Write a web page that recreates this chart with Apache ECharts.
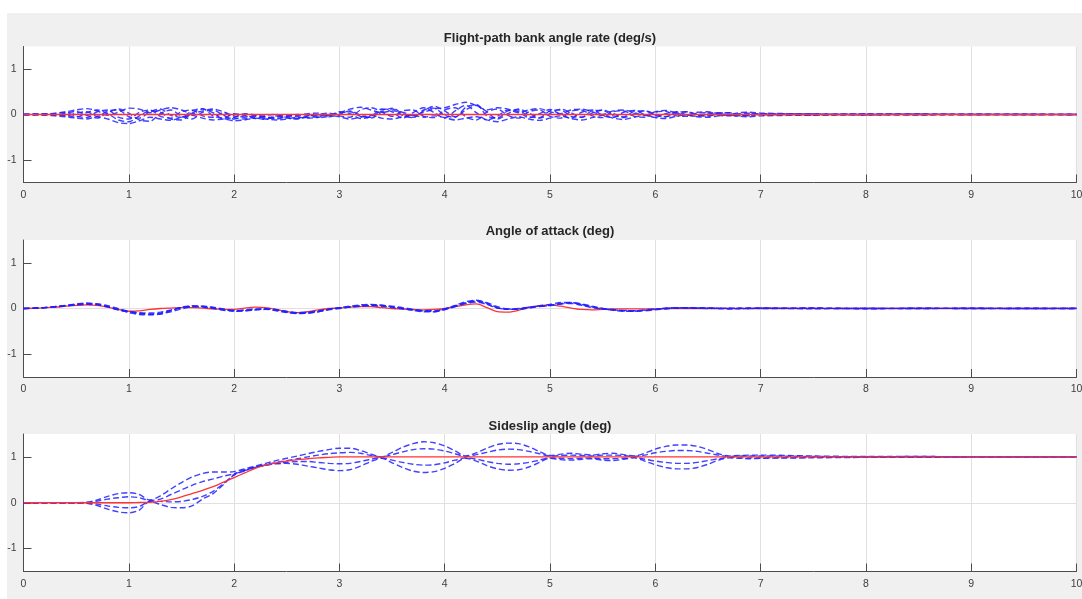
<!DOCTYPE html>
<html>
<head>
<meta charset="utf-8">
<script src="https://cdn.jsdelivr.net/npm/echarts@6/dist/echarts.min.js"></script>
<style>
html,body{margin:0;padding:0;background:#ffffff;width:1082px;height:599px;overflow:hidden;}
#chart{position:absolute;left:7px;top:13px;width:1075px;height:586px;}
</style>
</head>
<body>
<div id="chart"></div>
<script>
// time samples (s)
const T = [
0,0.1,0.2,0.3,0.4,0.5,0.6,0.7,0.8,0.9,
1,1.1,1.2,1.3,1.4,1.5,1.6,1.7,1.8,1.9,
2,2.1,2.2,2.3,2.4,2.5,2.6,2.7,2.8,2.9,
3,3.1,3.2,3.3,3.4,3.5,3.6,3.7,3.8,3.9,
4,4.1,4.2,4.3,4.4,4.5,4.6,4.7,4.8,4.9,
5,5.1,5.2,5.3,5.4,5.5,5.6,5.7,5.8,5.9,
6,6.1,6.2,6.3,6.4,6.5,6.6,6.7,6.8,6.9,
7,7.5,8,8.5,9,9.5,10];

const titles = ['Flight-path bank angle rate (deg/s)', 'Angle of attack (deg)', 'Sideslip angle (deg)'];
const xTicks = [0,1,2,3,4,5,6,7,8,9,10];
const yTicks = [-1,0,1];

// Panel 1: bank angle rate
const bankRef = [
0,0,0,0,0,0,0,0,0,0,
0,0,0,0,0,0,0,0,0,0,
0,0,0,0,0,0,0,0,0,0,
0,0,0,0,0,0,0,0,0,0,
0,0,0,0,0,0,0,0,0,0,
0,0,0,0,0,0,0,0,0,0,
0,0,0,0,0,0,0,0,0,0,
0,0,0,0,0,0,0];
const bankA = [
0,0,.01,.03,.06,.1,.13,.08,-.02,.05,
.14,.12,.04,.1,.15,.1,.02,.08,.12,.06,
-.03,-.06,-.02,-.05,-.08,-.04,-.02,.02,.03,-.02,
.04,.12,.16,.1,.04,.08,.05,-.02,.05,.12,
.15,.22,.27,.2,.1,.15,.12,.04,.1,.13,
.06,.02,.1,.12,.06,0,.08,.1,.04,-.02,
.06,.09,.03,-.01,.05,.06,.02,0,.04,.05,
.03,.015,.01,.01,.005,.005,0];
const bankB = [
0,0,-.01,-.03,-.05,-.08,-.1,-.05,-.1,-.18,
-.2,-.14,-.06,-.1,-.13,-.06,-.02,-.08,-.12,-.1,
-.14,-.12,-.08,-.1,-.12,-.1,-.06,-.08,-.06,-.02,
-.05,-.1,-.06,-.02,-.08,-.1,-.05,-.02,-.06,-.03,
-.07,-.12,-.08,-.05,-.12,-.16,-.1,-.05,-.1,-.13,
-.08,-.03,-.09,-.12,-.07,-.02,-.08,-.11,-.06,-.02,
-.07,-.09,-.04,-.01,-.05,-.06,-.03,-.01,-.04,-.05,
-.03,-.015,-.01,-.01,-.005,-.005,0];
const bankC = [
0,.01,.02,0,-.03,.03,.06,-.04,.08,.1,
-.05,-.08,.06,.12,-.02,-.06,.08,.13,-.03,-.08,
.02,-.02,-.09,-.02,0,-.08,-.09,-.03,0,.03,
-.03,-.06,.1,.15,.06,-.04,.08,.1,-.04,-.07,
.1,.15,-.05,-.12,.05,.12,-.02,-.08,.06,.1,
-.04,-.08,.07,.1,-.03,-.07,.06,.08,-.04,-.06,
.05,.07,-.03,-.04,.03,.04,-.02,-.03,.02,.03,
-.01,.01,0,.01,0,0,0];
const bankD = [
0,-.01,0,.02,.04,-.04,-.07,.06,.1,-.06,
-.1,.05,.1,-.04,-.08,.06,.1,-.03,-.06,.04,
-.07,-.1,-.04,-.08,-.05,-.02,-.05,-.07,-.03,0,
.03,.06,-.04,-.06,.1,.12,-.02,-.07,.1,.14,
-.02,-.06,.16,.22,-.03,-.08,.08,.1,-.05,-.07,
.08,.1,-.04,-.06,.08,.09,-.03,-.05,.07,.08,
-.02,-.05,.05,.06,-.02,-.03,.03,.04,-.01,-.02,
.02,-.01,.01,0,0,0,0];
const bankE = [
0,0,.01,-.02,.03,.07,-.02,-.08,.04,.12,
.03,-.12,-.15,.02,.1,-.04,-.1,.05,.1,-.02,
-.1,-.03,-.07,-.11,-.03,-.06,-.1,-.04,-.01,-.05,
0,.08,-.02,-.08,.05,.14,.02,-.06,.08,.18,
.08,-.05,.1,.2,.06,-.1,.02,.12,.03,-.08,
.02,.12,.04,-.06,.03,.1,.02,-.07,.02,.08,
.01,-.05,.02,.06,0,-.04,.02,.04,-.01,-.03,
.02,.01,-.01,.01,0,.005,0];
const bankF = [
0,.005,-.01,.01,-.02,-.06,.04,.1,.02,-.12,
-.16,-.03,.08,.05,-.1,-.12,.03,.12,.04,-.1,
-.06,.02,-.01,-.06,-.1,-.05,0,-.02,-.07,-.04,
.06,.02,-.09,-.04,.12,.06,-.08,.04,.15,.04,
-.08,.08,.2,.04,-.12,-.04,.1,.06,-.07,.02,
.11,0,-.08,.05,.1,-.02,-.07,.05,.09,0,
-.06,.02,.06,-.01,-.04,.03,.04,-.02,-.03,.02,
.01,-.01,.01,-.005,.005,0,0];

// Panel 2: angle of attack
const aoaRef = [
0,.005,.015,.03,.05,.07,.08,.07,.03,-.02,
-.06,-.05,-.02,0,.01,.02,.02,.01,-.01,-.02,
-.02,.01,.03,.02,-.02,-.07,-.09,-.07,-.03,0,
.01,.03,.04,.04,.02,0,-.01,-.02,-.03,-.02,
0,.04,.08,.1,.02,-.07,-.08,-.04,.02,.06,
.08,.05,.01,-.02,-.03,-.02,-.01,-.01,-.01,-.01,
-.01,0,0,0,0,0,0,0,0,0,
0,0,0,0,0,0,0];
const aoaA = [
0,.005,.02,.04,.06,.09,.1,.09,.04,-.03,
-.08,-.11,-.12,-.1,-.04,.02,.05,.04,.01,-.03,
-.05,-.04,-.02,-.01,-.04,-.08,-.1,-.09,-.06,-.02,
.01,.04,.06,.07,.06,.03,0,-.03,-.06,-.06,
-.01,.06,.13,.16,.1,.01,-.02,-.01,.02,.05,
.07,.11,.12,.08,.03,-.01,-.03,-.05,-.05,-.04,
-.02,0,.01,.015,.01,.005,0,-.005,.005,.01,
.005,.01,0,.005,0,.005,0];
const aoaB = [
0,.01,.025,.045,.07,.1,.12,.1,.05,-.02,
-.09,-.13,-.14,-.12,-.05,.03,.06,.05,.02,-.02,
-.06,-.05,-.03,-.02,-.05,-.09,-.11,-.1,-.07,-.02,
.02,.05,.08,.09,.07,.04,0,-.04,-.07,-.07,
-.01,.07,.15,.18,.12,.02,-.02,-.01,.03,.06,
.09,.13,.13,.09,.04,0,-.04,-.06,-.06,-.04,
-.02,.01,.02,.02,.01,.01,.005,0,-.005,0,
.005,-.005,.005,0,.005,0,0];
const aoaC = [
0,.005,.015,.035,.055,.08,.09,.08,.03,-.03,
-.07,-.09,-.1,-.08,-.03,.02,.04,.03,0,-.04,
-.05,-.03,-.01,-.01,-.03,-.07,-.09,-.08,-.05,-.01,
.01,.03,.05,.06,.05,.02,-.01,-.03,-.05,-.05,
-.01,.05,.11,.14,.09,.01,-.01,0,.03,.05,
.06,.1,.11,.07,.02,-.01,-.03,-.04,-.05,-.03,
-.01,0,.01,.01,.005,0,.005,.01,.005,0,
.01,.005,0,.005,0,0,.005];
const aoaD = [
0,.005,.02,.035,.06,.085,.11,.1,.06,0,
-.06,-.1,-.13,-.12,-.07,-.01,.04,.05,.03,-.01,
-.04,-.05,-.03,-.01,-.02,-.06,-.1,-.1,-.07,-.03,
0,.03,.06,.08,.07,.05,.02,-.02,-.05,-.07,
-.03,.04,.12,.17,.13,.04,-.01,-.02,.01,.04,
.07,.1,.13,.1,.05,0,-.02,-.05,-.06,-.05,
-.03,-.01,.01,.01,.01,.01,0,-.005,0,.005,
0,.005,-.005,0,.005,0,0];

// Panel 3: sideslip angle
const slipRef = [
0,0,0,0,0,0,0,0,0,0,
0,.005,.01,.03,.07,.13,.2,.27,.35,.45,
.55,.65,.75,.82,.87,.91,.94,.96,.98,.99,
1,1,1,1,1,1,1,1,1,1,
1,1,1,1,1,1,1,1,1,1,
1,1,1,1,1,1,1,1,1,1,
1,1,1,1,1,1,1,1,1,1,
1,1,1,1,1,1,1];
const slipUo = [
0,0,0,0,0,0,.01,.06,.14,.2,
.22,.18,.06,.15,.3,.44,.56,.64,.67,.67,
.68,.74,.8,.86,.92,.97,1.02,1.07,1.12,1.16,
1.19,1.19,1.14,1.06,1.0,1.1,1.21,1.29,1.33,1.31,
1.24,1.13,1.02,1.09,1.19,1.27,1.3,1.29,1.22,1.12,
1.03,1.06,1.08,1.06,1.04,1.07,1.08,1.05,1.02,1.08,
1.17,1.23,1.26,1.26,1.23,1.16,1.07,1.02,1.03,1.04,
1.04,1.02,1.01,1.01,1.0,1.005,1.0];
const slipLo = [
0,0,0,0,0,0,-.01,-.06,-.14,-.2,
-.22,-.16,.03,-.04,-.1,-.11,-.07,.08,.2,.4,
.62,.72,.78,.82,.85,.86,.84,.8,.76,.72,
.7,.72,.8,.9,.97,.87,.77,.69,.66,.68,
.75,.86,.97,.91,.81,.74,.71,.72,.78,.88,
.97,.94,.93,.95,.96,.93,.92,.95,.98,.91,
.83,.77,.74,.74,.77,.84,.93,.98,.97,.96,
.97,.98,.99,.99,1,.995,1];
const slipUi = [
0,0,0,0,0,0,.005,.035,.08,.11,
.13,.11,.05,.08,.18,.28,.38,.46,.52,.58,
.63,.7,.77,.83,.88,.92,.96,1.0,1.04,1.07,
1.09,1.1,1.08,1.03,1.0,1.05,1.11,1.16,1.18,1.17,
1.13,1.07,1.01,1.05,1.1,1.15,1.17,1.16,1.12,1.07,
1.02,1.03,1.04,1.03,1.02,1.04,1.04,1.03,1.01,1.04,
1.09,1.12,1.14,1.14,1.12,1.08,1.04,1.01,1.02,1.02,
1.02,1.01,1.0,1.01,1,1,1];
const slipLi = [
0,0,0,0,0,0,-.005,-.03,-.07,-.1,
-.11,-.08,.03,.03,.02,.03,.07,.14,.25,.42,
.6,.7,.77,.82,.86,.88,.9,.9,.88,.86,
.85,.86,.9,.95,.98,.93,.88,.84,.82,.83,
.87,.93,.98,.95,.9,.86,.84,.85,.88,.93,
.98,.97,.96,.97,.98,.96,.96,.97,.99,.95,
.91,.88,.86,.86,.88,.92,.96,.99,.98,.98,
.98,.99,1.0,.99,1,1,1];

const panels = [
  {ref: bankRef, runs: [bankA, bankB, bankC, bankD, bankE, bankF], refZ: 4},
  {ref: aoaRef, runs: [aoaA, aoaB, aoaC, aoaD], refZ: 2},
  {ref: slipRef, runs: [slipUo, slipLo, slipUi, slipLi], refZ: 4}
];

const FONT = 'Liberation Sans, Arial, Helvetica, sans-serif';
const gridTops = [33.5, 227, 421];
const gridHeights = [136, 137, 137.5];
const titleTops = [13.5, 207, 401.5];

const grids = [], xAxes = [], yAxes = [], series = [], titleArr = [];
panels.forEach((p, k) => {
  grids.push({left: 16.5, width: 1053, top: gridTops[k], height: gridHeights[k],
    show: true, backgroundColor: '#ffffff', borderWidth: 0, containLabel: false,
    outerBoundsMode: 'none'});
  titleArr.push({text: titles[k], left: 538, top: titleTops[k], textAlign: 'center',
    textStyle: {fontFamily: FONT, fontSize: 13, fontWeight: 'bold', color: '#262626'}});
  xAxes.push({type: 'value', gridIndex: k, min: 0, max: 10, interval: 1,
    axisLine: {show: true, onZero: false, lineStyle: {color: '#4d4d4d', width: 1}},
    axisTick: {show: true, inside: true, length: 8, lineStyle: {color: '#4d4d4d'}},
    axisLabel: {margin: 7, color: '#404040', fontSize: 10.5, fontFamily: FONT,
      customValues: xTicks, showMinLabel: true, showMaxLabel: true, hideOverlap: false},
    splitLine: {show: true, lineStyle: {color: '#e0e0e0', width: 1}}});
  yAxes.push({type: 'value', gridIndex: k, min: -1.5, max: 1.5, interval: 0.5,
    axisLine: {show: true, onZero: false, lineStyle: {color: '#4d4d4d', width: 1}},
    axisTick: {show: true, inside: true, length: 8, customValues: yTicks, lineStyle: {color: '#4d4d4d'}},
    axisLabel: {margin: 7, color: '#404040', fontSize: 10.5, fontFamily: FONT, customValues: yTicks},
    splitLine: {show: true, lineStyle: {color: ['rgba(0,0,0,0)', '#e0e0e0'], width: 1}}});
  series.push({type: 'line', xAxisIndex: k, yAxisIndex: k, showSymbol: false, symbol: 'none',
    smooth: 0.3, silent: true, animation: false, z: p.refZ,
    lineStyle: {color: '#ff3333', width: 1.3},
    data: T.map((t, i) => [t, p.ref[i]])});
  p.runs.forEach((r) => {
    series.push({type: 'line', xAxisIndex: k, yAxisIndex: k, showSymbol: false, symbol: 'none',
      smooth: 0.3, silent: true, animation: false, z: 3,
      lineStyle: {color: '#2020ff', width: 1.4, type: [6, 3], opacity: 0.85},
      data: T.map((t, i) => [t, r[i]])});
  });
});

const chart = echarts.init(document.getElementById('chart'), null, {renderer: 'canvas'});
chart.setOption({
  backgroundColor: '#f0f0f0',
  animation: false,
  title: titleArr,
  grid: grids,
  xAxis: xAxes,
  yAxis: yAxes,
  series: series
});
</script>
</body>
</html>
